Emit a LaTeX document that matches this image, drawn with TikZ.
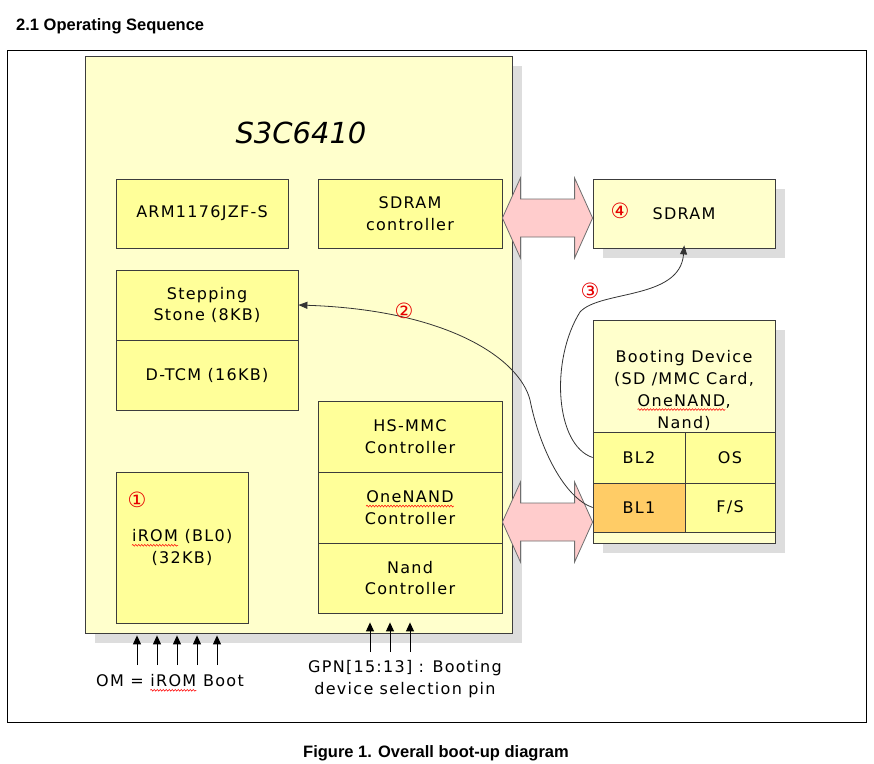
\documentclass[tikz,border=0pt]{standalone}
\usepackage{fontspec}
\setmainfont{DejaVu Sans}[LetterSpace=8]
\newfontfamily\headfont{Liberation Sans}
\newfontfamily\chipfont{DejaVu Sans}
\usetikzlibrary{arrows.meta, calc, shadows, decorations.pathmorphing}
\definecolor{chipfill}{RGB}{255,255,204}
\definecolor{unitfill}{RGB}{255,255,153}
\definecolor{bootfill}{RGB}{255,204,102}
\definecolor{buspink}{RGB}{255,204,204}
\definecolor{busgray}{RGB}{110,110,110}
\definecolor{boxline}{RGB}{60,60,60}
\definecolor{shadowgray}{RGB}{221,221,221}
\definecolor{seqred}{RGB}{230,0,0}
% red wavy mark under some words
\newcommand\spellmark[1]{\tikz[baseline=0pt]{%
  \node[shape=rectangle, draw=none, fill=none, minimum width=0pt, minimum height=0pt,
    inner sep=0pt, anchor=base] (sm) at (0,0) {#1};
  \draw[red, line width=0.5pt, decorate, decoration={snake, amplitude=0.9pt, segment length=3pt}]
    ([yshift=-3.5pt]sm.base west) -- ([yshift=-3.5pt]sm.base east);}}
\tikzset{
  chip/.style={rectangle, draw=boxline, fill=chipfill, line width=0.8pt,
    drop shadow={shadow xshift=10pt, shadow yshift=-10pt, fill=shadowgray, opacity=1}},
  unit/.style={rectangle, draw=boxline, fill=unitfill, line width=0.8pt,
    align=center, inner sep=0pt, font=\fontsize{16}{21.5}\selectfont},
  memory/.style={chip, align=center, inner sep=0pt, font=\fontsize{16}{21.5}\selectfont},
  heading/.style={font=\headfont\bfseries\fontsize{16.5}{18}\selectfont, inner sep=0pt},
  pinlabel/.style={align=center, inner sep=0pt, font=\fontsize{16}{22}\selectfont},
  seqnum/.style={text=seqred, inner sep=0pt, font=\fontsize{21}{21}\selectfont},
  pin/.style={-{Triangle[width=8pt,length=9pt]}, line width=1pt},
  flow/.style={-{Triangle[width=7pt,length=9pt]}, line width=0.8pt, draw=black!80},
  busarrow/.style={fill=buspink, draw=busgray, line width=0.8pt},
  frame/.style={draw=black, line width=1pt}
}
% wide double arrow between two anchors, moved down by #3
\newcommand\busarrow[3]{%
  \path ($(#1)+(0,#3)$) coordinate (bus-a) ($(#2)+(0,#3)$) coordinate (bus-b);
  \draw[busarrow] (bus-a) -- ++(18,-40) -- ++(0,21) -- ($(bus-b)+(-18,-19)$)
    -- ++(0,-21) -- (bus-b) -- ++(-18,40) -- ++(0,-21) -- ($(bus-a)+(18,19)$)
    -- ++(0,21) -- cycle;}
\begin{document}
\begin{tikzpicture}[x=1pt,y=-1pt]
  \useasboundingbox (0,0) rectangle (874,763);

  % heading, frame and caption
  \node[heading, anchor=base west] (title) at (16,30) {2.1 Operating Sequence};
  \draw[frame] (7,50) rectangle (866,722);
  \node[heading, anchor=base] (caption) at (436,757) {Figure 1. Overall boot-up diagram};

  % S3C6410
  \node[chip, minimum width=427, minimum height=577] (soc) at (298.5,344.5) {};
  \node[font=\chipfont\itshape\fontsize{29}{30}\selectfont] (socname) at (301,133) {S3C6410};

  \node[unit, minimum width=172, minimum height=69] (arm) at (202,213.5) {ARM1176JZF-S};
  \node[unit, minimum width=184, minimum height=69] (sdc) at (410,213.5) {SDRAM\\controller};
  \node[unit, minimum width=182, minimum height=70] (stone) at (207,305) {Stepping\\Stone (8KB)};
  \node[unit, minimum width=182, minimum height=70] (dtcm) at (207,375) {D-TCM (16KB)};
  \node[unit, minimum width=184, minimum height=71] (hsmmc) at (410,436.5) {HS-MMC\\Controller};
  \node[unit, minimum width=184, minimum height=71] (onenand) at (410,507.5) {\spellmark{OneNAND}\\Controller};
  \node[unit, minimum width=184, minimum height=70] (nand) at (410,578) {Nand\\Controller};
  \node[unit, minimum width=132, minimum height=151] (irom) at (182,547.5) {\spellmark{iROM} (BL0)\\(32KB)};
  \node[seqnum] (one) at (137,500) {①};

  % SDRAM
  \node[memory, minimum width=182, minimum height=69] (sdram) at (684,213.5) {SDRAM};
  \node[seqnum] (four) at (620,211) {④};

  % Booting device
  \node[memory, minimum width=182, minimum height=223] (bootdev) at (684,431.5) {};
  \node[align=center, inner sep=0pt, font=\fontsize{16}{22}\selectfont] (boottxt) at (684,390)
    {Booting Device\\(SD /MMC Card,\\\spellmark{OneNAND},\\Nand)};
  \node[unit, minimum width=92, minimum height=51] (bl2) at (639,457.5) {BL2};
  \node[unit, minimum width=90, minimum height=51] (os) at (730,457.5) {OS};
  \node[unit, fill=bootfill, minimum width=92, minimum height=49] (bl1) at (639,507.5) {BL1};
  \node[unit, minimum width=90, minimum height=49] (fs) at (730,507.5) {F/S};

  % buses
  \busarrow{sdc.east}{sdram.west}{4.5}
  \busarrow{onenand.east}{bl1.west}{14.5}

  % boot steps
  \draw[flow] (bl1.west) .. controls (565,498) and (540,450) .. (530,400)
    .. controls (520,360) and (450,310) .. (stone.east);
  \node[seqnum] (two) at (404,311) {②};
  \draw[flow, shorten >=-3pt] (bl2.west) .. controls (555,445) and (550,360) .. (580,312)
    .. controls (600,290) and (680,300) .. (sdram.south);
  \node[seqnum] (three) at (590,291) {③};

  % pins
  \foreach \x in {137,157,177,197,217}
    \draw[pin, shorten >=2pt] (\x,665) -- (\x,0 |- soc.south);
  \node[pinlabel] (omtxt) at (170,683) {OM = \spellmark{iROM} Boot};
  \foreach \x in {370,390,410}
    \draw[pin, shorten >=9pt] (\x,652) -- (\x,0 |- nand.south);
  \node[pinlabel] (gpntxt) at (405,679) {GPN[15:13] : Booting\\device selection pin};
\end{tikzpicture}
\end{document}
